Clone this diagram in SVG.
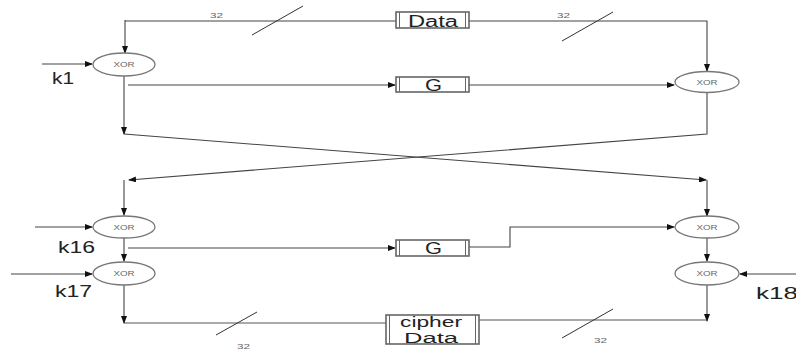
<svg xmlns="http://www.w3.org/2000/svg" width="796" height="349" viewBox="0 0 796 349">
<defs>
<marker id="ah" markerWidth="8" markerHeight="6" refX="7" refY="3" orient="auto" markerUnits="userSpaceOnUse">
<path d="M0,0 L8,3 L0,6 Z" fill="#111"/>
</marker>
<style>
.ln{fill:none;stroke:#555;stroke-width:1.1}
.ar{fill:none;stroke:#444;stroke-width:1.1;marker-end:url(#ah)}
.sl{fill:none;stroke:#333;stroke-width:1}
.xor{fill:#fff;stroke:#777;stroke-width:1.3}
.xt{font-family:"Liberation Sans",Arial,sans-serif;font-size:7px;fill:#666}
.bx{fill:#fff;stroke:#666;stroke-width:1.6}
.bi{stroke:#666;stroke-width:1}
.bt{font-family:"Liberation Sans",Arial,sans-serif;font-size:16px;fill:#222}
.kt{font-family:"Liberation Sans",Arial,sans-serif;font-size:16px;fill:#222}
.nt{font-family:"Liberation Sans",Arial,sans-serif;font-size:7px;fill:#666}
</style>
</defs>
<g id="connectors">
<path class="ar" d="M125,21 H396 M125,20 V53"/>
<path class="ar" d="M469,21 H707 V71"/>
<path class="ar" d="M42,64 H92"/>
<path class="ar" d="M124,76 V134"/>
<path class="ar" d="M128,85 H395"/>
<path class="ar" d="M469,85 H674"/>
<path class="ar" d="M707,93 V134 L129,180"/>
<path class="ar" d="M124,134 L706,180"/>
<path class="ar" d="M124,180 V215"/>
<path class="ar" d="M707,180 V216"/>
<path class="ar" d="M35,227 H92"/>
<path class="ar" d="M124,238 V261"/>
<path class="ar" d="M128,248 H395"/>
<path class="ar" d="M469,247 H510 V227 H674"/>
<path class="ar" d="M707,238 V261"/>
<path class="ar" d="M11,274 H92"/>
<path class="ar" d="M796,274 H740"/>
<path class="ar" d="M124,285 V323"/>
<path class="ln" d="M124,323 H386"/>
<path class="ar" d="M707,285 V321"/>
<path class="ln" d="M707,320 H479"/>
<path class="sl" d="M252,35 L303,6"/>
<path class="sl" d="M562,41 L613,12"/>
<path class="sl" d="M216,335 L257,312"/>
<path class="sl" d="M562,338 L613,309"/>
<text class="nt" x="210" y="18" textLength="13" lengthAdjust="spacingAndGlyphs">32</text>
<text class="nt" x="557" y="18" textLength="13" lengthAdjust="spacingAndGlyphs">32</text>
<text class="nt" x="237" y="349" textLength="13" lengthAdjust="spacingAndGlyphs">32</text>
<text class="nt" x="594" y="343" textLength="13" lengthAdjust="spacingAndGlyphs">32</text>
</g>
<g id="data">
<rect class="bx" x="396" y="12" width="73" height="16"/>
<path class="bi" d="M399.5,12 V28 M465.5,12 V28"/>
<text class="bt" x="408" y="26.5" textLength="50" lengthAdjust="spacingAndGlyphs">Data</text>
</g>
<g id="g1">
<rect class="bx" x="396" y="77" width="73" height="15"/>
<path class="bi" d="M399.5,77 V92 M465.5,77 V92"/>
<text class="bt" x="425" y="90.5" textLength="17" lengthAdjust="spacingAndGlyphs">G</text>
</g>
<g id="g2">
<rect class="bx" x="396" y="240" width="73" height="16"/>
<path class="bi" d="M399.5,240 V256 M465.5,240 V256"/>
<text class="bt" x="425" y="254" textLength="17" lengthAdjust="spacingAndGlyphs">G</text>
</g>
<g id="cipher">
<rect class="bx" x="386" y="315" width="93" height="29"/>
<path class="bi" d="M389.5,315 V344 M475.5,315 V344"/>
<text class="bt" x="400" y="327" textLength="62" lengthAdjust="spacingAndGlyphs" style="font-size:14px">cipher</text>
<text class="bt" x="404" y="342.5" textLength="54" lengthAdjust="spacingAndGlyphs" style="font-size:14px">Data</text>
</g>
<g id="xor1">
<ellipse class="xor" cx="124" cy="64.5" rx="31" ry="11.5"/>
<text class="xt" x="113.5" y="67" textLength="21" lengthAdjust="spacingAndGlyphs">XOR</text>
</g>
<g id="xor2">
<ellipse class="xor" cx="707" cy="82" rx="32" ry="10.5"/>
<text class="xt" x="696.5" y="84.5" textLength="21" lengthAdjust="spacingAndGlyphs">XOR</text>
</g>
<g id="xor3">
<ellipse class="xor" cx="124" cy="227" rx="31" ry="11"/>
<text class="xt" x="113.5" y="229.5" textLength="21" lengthAdjust="spacingAndGlyphs">XOR</text>
</g>
<g id="xor4">
<ellipse class="xor" cx="124" cy="273.5" rx="31" ry="11.5"/>
<text class="xt" x="113.5" y="276" textLength="21" lengthAdjust="spacingAndGlyphs">XOR</text>
</g>
<g id="xor5">
<ellipse class="xor" cx="707" cy="227" rx="32" ry="11"/>
<text class="xt" x="696.5" y="229.5" textLength="21" lengthAdjust="spacingAndGlyphs">XOR</text>
</g>
<g id="xor6">
<ellipse class="xor" cx="707" cy="273.5" rx="32" ry="11.5"/>
<text class="xt" x="696.5" y="276" textLength="21" lengthAdjust="spacingAndGlyphs">XOR</text>
</g>
<g id="keys">
<text class="kt" x="52" y="84" textLength="22" lengthAdjust="spacingAndGlyphs">k1</text>
<text class="kt" x="58" y="253" textLength="37" lengthAdjust="spacingAndGlyphs">k16</text>
<text class="kt" x="55" y="297" textLength="37" lengthAdjust="spacingAndGlyphs">k17</text>
<text class="kt" x="756" y="299" textLength="42" lengthAdjust="spacingAndGlyphs">k18</text>
</g>
</svg>
